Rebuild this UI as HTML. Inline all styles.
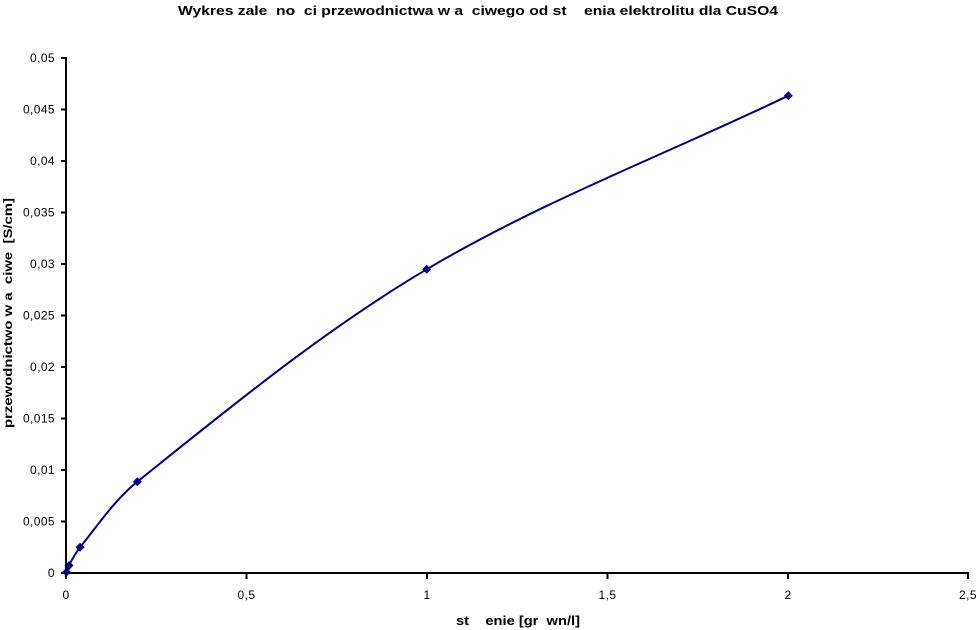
<!DOCTYPE html>
<html>
<head>
<meta charset="utf-8">
<style>
html,body{margin:0;padding:0;background:#fff;}
svg{display:block;}
text{font-family:"Liberation Sans",Arial,sans-serif;fill:#000;}
</style>
</head>
<body>
<svg width="979" height="630" viewBox="0 0 979 630" xmlns="http://www.w3.org/2000/svg">
  <rect width="979" height="630" fill="#fff"/>
  <!-- Title -->
  <text x="478" y="15" font-size="13" font-weight="bold" text-anchor="middle" xml:space="preserve" textLength="600" lengthAdjust="spacingAndGlyphs">Wykres zale  no  ci przewodnictwa w a  ciwego od st    enia elektrolitu dla CuSO4</text>

  <!-- Axes -->
  <line x1="66" y1="57" x2="66" y2="574" stroke="#000" stroke-width="2"/>
  <line x1="65" y1="573" x2="969" y2="573" stroke="#000" stroke-width="2"/>

  <!-- Y ticks -->
  <g stroke="#000" stroke-width="2">
    <line x1="61" y1="573" x2="66" y2="573"/>
    <line x1="61" y1="521.5" x2="66" y2="521.5"/>
    <line x1="61" y1="470" x2="66" y2="470"/>
    <line x1="61" y1="418.5" x2="66" y2="418.5"/>
    <line x1="61" y1="367" x2="66" y2="367"/>
    <line x1="61" y1="315.5" x2="66" y2="315.5"/>
    <line x1="61" y1="264" x2="66" y2="264"/>
    <line x1="61" y1="212.5" x2="66" y2="212.5"/>
    <line x1="61" y1="161" x2="66" y2="161"/>
    <line x1="61" y1="109.5" x2="66" y2="109.5"/>
    <line x1="61" y1="58" x2="66" y2="58"/>
  </g>
  <g font-size="12" text-anchor="end" letter-spacing="0.4">
    <text x="55" y="577">0</text>
    <text x="55" y="525.5">0,005</text>
    <text x="55" y="474">0,01</text>
    <text x="55" y="422.5">0,015</text>
    <text x="55" y="371">0,02</text>
    <text x="55" y="319.5">0,025</text>
    <text x="55" y="268">0,03</text>
    <text x="55" y="216.5">0,035</text>
    <text x="55" y="165">0,04</text>
    <text x="55" y="113.5">0,045</text>
    <text x="55" y="62">0,05</text>
  </g>

  <!-- X ticks -->
  <g stroke="#000" stroke-width="2">
    <line x1="66" y1="573" x2="66" y2="579"/>
    <line x1="246.5" y1="573" x2="246.5" y2="579"/>
    <line x1="427" y1="573" x2="427" y2="579"/>
    <line x1="607.5" y1="573" x2="607.5" y2="579"/>
    <line x1="788" y1="573" x2="788" y2="579"/>
    <line x1="968" y1="573" x2="968" y2="579"/>
  </g>
  <g font-size="12" text-anchor="middle" letter-spacing="0.4">
    <text x="66" y="599">0</text>
    <text x="246.5" y="599">0,5</text>
    <text x="427" y="599">1</text>
    <text x="607.5" y="599">1,5</text>
    <text x="788" y="599">2</text>
    <text x="968" y="599">2,5</text>
  </g>

  <!-- Axis titles -->
  <text x="518" y="625" font-size="13" font-weight="bold" text-anchor="middle" xml:space="preserve" textLength="124" lengthAdjust="spacingAndGlyphs">st    enie [gr  wn/l]</text>
  <text transform="translate(12,313) rotate(-90)" font-size="12" font-weight="bold" text-anchor="middle" xml:space="preserve" textLength="230" lengthAdjust="spacingAndGlyphs">przewodnictwo w a  ciwe  [S/cm]</text>

  <!-- Series curve -->
  <path d="M66.5,572 L69,565.5 Q73,557 80,547.3 C98.3,524.8 114.7,499.8 137.3,481.7 C230.7,406.9 323.8,330.3 426.7,269.3 C541.7,201.1 667.8,153.6 788.3,95.7"
        fill="none" stroke="#000080" stroke-width="2" stroke-linejoin="round"/>

  <!-- Markers -->
  <g fill="#000080">
    <polygon points="66.5,567.5 71,572 66.5,576.5 62,572"/>
    <polygon points="69,561 73.5,565.5 69,570 64.5,565.5"/>
    <polygon points="80,542.8 84.5,547.3 80,551.8 75.5,547.3"/>
    <polygon points="137.3,477.2 141.8,481.7 137.3,486.2 132.8,481.7"/>
    <polygon points="426.7,264.8 431.2,269.3 426.7,273.8 422.2,269.3"/>
    <polygon points="788.3,91.2 792.8,95.7 788.3,100.2 783.8,95.7"/>
  </g>
</svg>
</body>
</html>
